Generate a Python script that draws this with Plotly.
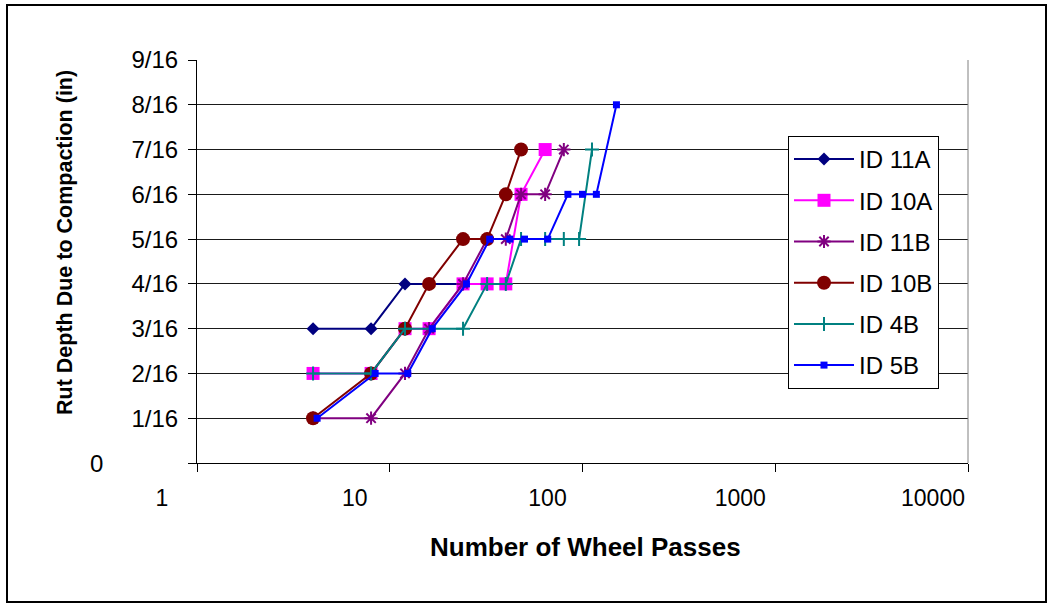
import plotly.graph_objects as go

# Rut depth (in sixteenths of an inch) against number of wheel passes
passes_11a = [4, 8, 12, 16, 24]
rut_11a = [3, 3, 4, 4, 4]

passes_10a = [4, 8, 12, 16, 24, 32, 40, 48, 64]
rut_10a = [2, 2, 3, 3, 4, 4, 4, 6, 7]

passes_11b = [4, 8, 12, 16, 24, 32, 40, 48, 64, 80]
rut_11b = [1, 1, 2, 3, 4, 5, 5, 6, 6, 7]

passes_10b = [4, 8, 12, 16, 24, 32, 40, 48]
rut_10b = [1, 2, 3, 4, 5, 5, 6, 7]

passes_4b = [4, 8, 12, 24, 32, 40, 48, 64, 80, 96, 112]
rut_4b = [2, 2, 3, 3, 4, 4, 5, 5, 5, 5, 7]

passes_5b = [4.2, 8.4, 12.4, 16.6, 25, 33, 42, 50, 66, 84, 100, 118, 150]
rut_5b = [1, 2, 2, 3, 4, 5, 5, 5, 5, 6, 6, 6, 8]

y_tick_vals = list(range(10))
# the zero label is set apart, further left than the fractions
y_tick_text = [""] + [f"{i}/16" for i in range(1, 10)]
y_zero_label = "0"
x_tick_vals = [1, 10, 100, 1000, 10000]
x_tick_text = ["1", "10", "100", "1000", "10000"]

FONT = "Arial, 'Liberation Sans', sans-serif"

series = [
    ("ID 11A", passes_11a, rut_11a, "#000080", dict(symbol="diamond", size=10)),
    ("ID 10A", passes_10a, rut_10a, "#FF00FF", dict(symbol="square", size=13)),
    ("ID 11B", passes_11b, rut_11b, "#800080",
     dict(symbol="asterisk-open", size=11, line=dict(width=2, color="#800080"))),
    ("ID 10B", passes_10b, rut_10b, "#800000", dict(symbol="circle", size=14)),
    ("ID 4B", passes_4b, rut_4b, "#008080",
     dict(symbol="cross-thin-open", size=10, line=dict(width=2, color="#008080"))),
    ("ID 5B", passes_5b, rut_5b, "#0000FF", dict(symbol="square", size=7)),
]

fig = go.Figure()
for name, xs, ys, color, mk in series:
    fig.add_trace(go.Scatter(
        x=xs, y=ys, name=name, mode="lines+markers",
        legendgroup=name,
        line=dict(color=color, width=2),
        marker=dict(color=color, **mk),
    ))

# plot area in pixels: left 197, right 968, top 60, bottom 463
L, R, T, B = 197, 968, 60, 463
W, H = R - L, B - T


def px(x):
    return (x - L) / W


def py(y):
    return (B - y) / H


fig.update_layout(
    width=1052, height=605,
    margin=dict(l=L, r=1052 - R, t=T, b=605 - B, pad=0),
    paper_bgcolor="white", plot_bgcolor="white",
    font=dict(family=FONT, color="black", size=22),
    showlegend=True,
    legend=dict(
        x=px(788), y=py(136), xanchor="left", yanchor="top",
        bgcolor="white", bordercolor="black", borderwidth=1,
        font=dict(family=FONT, size=24, color="black"),
        itemwidth=60, tracegroupgap=7,
    ),
    xaxis=dict(
        type="log", range=[0, 4],
        tickvals=x_tick_vals, ticktext=x_tick_text,
        ticks="outside", ticklen=8, tickcolor="black", tickwidth=1,
        showline=True, linecolor="black", linewidth=1,
        showgrid=False, zeroline=False,
        ticklabelshift=-35, ticklabelstandoff=6,
        tickfont=dict(family=FONT, size=23, color="black"),
    ),
    yaxis=dict(
        range=[0, 9],
        tickvals=y_tick_vals, ticktext=y_tick_text,
        ticks="outside", ticklen=8, tickcolor="black", tickwidth=1,
        showline=True, linecolor="black", linewidth=1,
        showgrid=True, gridcolor="#1a1a1a", gridwidth=1,
        zeroline=False,
        ticklabelstandoff=5,
        tickfont=dict(family=FONT, size=24, color="black"),
    ),
    annotations=[
        dict(text=y_zero_label, xref="paper", yref="y",
             x=px(97), y=0, xanchor="center", yanchor="middle",
             showarrow=False, font=dict(family=FONT, size=24, color="black")),
        dict(text="<b>Number of Wheel Passes</b>", xref="paper", yref="paper",
             x=px(585), y=py(547), xanchor="center", yanchor="middle",
             showarrow=False, font=dict(family=FONT, size=26, color="black")),
        dict(text="<b>Rut Depth Due to Compaction (in)</b>", xref="paper", yref="paper",
             x=px(65), y=py(243), xanchor="center", yanchor="middle", textangle=-90,
             showarrow=False, font=dict(family=FONT, size=21.5, color="black")),
    ],
    shapes=[
        # right edge of the plot area
        dict(type="line", xref="paper", yref="paper", x0=1, x1=1, y0=0, y1=1,
             line=dict(color="#808080", width=1)),
        # outer chart frame
        dict(type="rect", xref="paper", yref="paper",
             x0=px(7), x1=px(1046), y0=py(602), y1=py(5),
             line=dict(color="black", width=2), layer="below"),
    ],
)

fig.write_html("out.html")
